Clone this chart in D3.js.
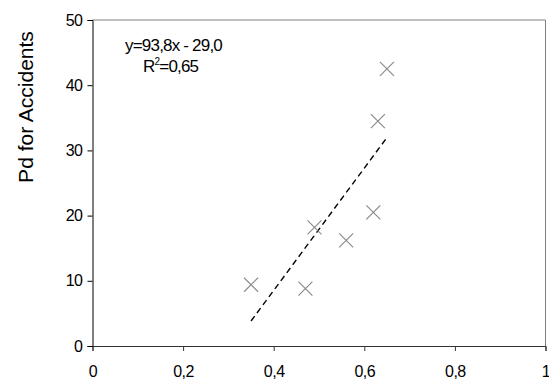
<!DOCTYPE html>
<html>
<head>
<meta charset="utf-8">
<script src="https://cdn.jsdelivr.net/npm/d3@7"></script>
<style>
  html, body { margin: 0; padding: 0; background: #fff; }
  svg { display: block; font-family: "Liberation Sans", Arial, sans-serif; }
</style>
</head>
<body>
<svg id="chart" width="549" height="381"></svg>
<script>
// Observations: share (x) vs Pd for accidents (y)
const xValues = [0.35, 0.47, 0.49, 0.56, 0.62, 0.63, 0.65];
const yValues = [9.4, 8.8, 18.2, 16.2, 20.5, 34.5, 42.5];

// Linear trend line
const slope = 93.8;
const intercept = -29.0;
const rSquared = 0.65;
const trendRange = [0.35, 0.65];

const xTicks = [0, 0.2, 0.4, 0.6, 0.8, 1];
const yTicks = [0, 10, 20, 30, 40, 50];
const yLabel = "Pd for Accidents";

const svg = d3.select("#chart");
const plot = { left: 92.5, right: 545.5, top: 20, bottom: 346 };

const x = d3.scaleLinear().domain([0, 1]).range([plot.left, plot.right]);
const y = d3.scaleLinear().domain([0, 50]).range([plot.bottom, plot.top]);

const comma = v => String(v).replace(".", ",");

// Plot frame (top and right edges)
svg.append("path")
  .attr("d", `M${plot.left},${plot.top}H${plot.right}V${plot.bottom}`)
  .attr("fill", "none").attr("stroke", "#808080").attr("stroke-width", 1);

// X axis
const xAxis = svg.append("g").attr("transform", `translate(0,${plot.bottom})`)
  .call(d3.axisBottom(x).tickValues(xTicks).tickFormat(comma).tickSize(5).tickPadding(15));
xAxis.select(".domain").attr("stroke", "#333");
xAxis.selectAll(".tick line").attr("stroke", "#333");
xAxis.selectAll("text").attr("font-size", 16).attr("fill", "#000")
  .attr("letter-spacing", -0.5)
  .attr("font-family", "Liberation Sans, Arial, sans-serif");

// Y axis
const yAxis = svg.append("g").attr("transform", `translate(${plot.left},0)`)
  .call(d3.axisLeft(y).tickValues(yTicks).tickFormat(comma).tickSize(5).tickPadding(5));
yAxis.select(".domain").attr("stroke", "#000");
yAxis.selectAll(".tick line").attr("stroke", "#000");
yAxis.selectAll("text").attr("font-size", 16).attr("fill", "#000")
  .attr("letter-spacing", -0.5)
  .attr("font-family", "Liberation Sans, Arial, sans-serif");

// Y axis title
svg.append("text")
  .attr("transform", "translate(33,107) rotate(-90)")
  .attr("text-anchor", "middle")
  .attr("font-size", 21)
  .text(yLabel);

// Trend line
svg.append("line")
  .attr("x1", x(trendRange[0])).attr("y1", y(slope * trendRange[0] + intercept))
  .attr("x2", x(trendRange[1])).attr("y2", y(slope * trendRange[1] + intercept))
  .attr("stroke", "#000").attr("stroke-width", 1.4)
  .attr("stroke-dasharray", "6,4");

// Cross markers
const s = 7;
svg.append("g").selectAll("path")
  .data(xValues.map((v, i) => [v, yValues[i]]))
  .join("path")
  .attr("d", d => {
    const cx = x(d[0]), cy = y(d[1]);
    return `M${cx - s},${cy - s}L${cx + s},${cy + s}M${cx - s},${cy + s}L${cx + s},${cy - s}`;
  })
  .attr("stroke", "#8c8c8c").attr("stroke-width", 1.2).attr("fill", "none");

// Equation and R²
svg.append("text")
  .attr("x", 125).attr("y", 51)
  .attr("font-size", 17).attr("letter-spacing", -0.8)
  .text(`y=${comma(slope.toFixed(1))}x - ${comma(Math.abs(intercept).toFixed(1))}`);

const r2 = svg.append("text")
  .attr("x", 143).attr("y", 72)
  .attr("font-size", 17).attr("letter-spacing", -0.8);
r2.append("tspan").text("R");
r2.append("tspan").attr("font-size", 10).attr("dy", -7).text("2");
r2.append("tspan").attr("dy", 7).text(`=${comma(rSquared.toFixed(2))}`);
</script>
</body>
</html>
